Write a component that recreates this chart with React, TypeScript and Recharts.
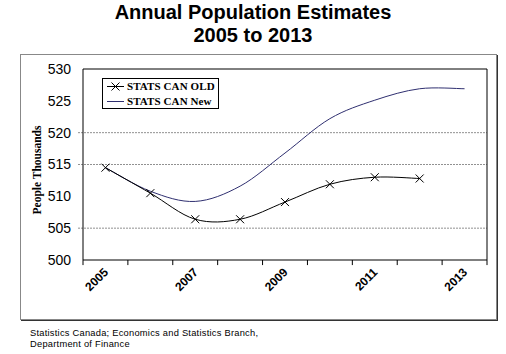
import React from "react";
import { LineChart, Line, XAxis, YAxis, ReferenceLine, ReferenceArea } from "recharts";

const years = [2005, 2006, 2007, 2008, 2009, 2010, 2011, 2012, 2013];
const statsCanOld = [514.5, 510.5, 506.4, 506.4, 509.1, 511.9, 513.0, 512.8, null];
const statsCanNew = [514.5, 510.8, 509.2, 511.6, 516.8, 522.2, 525.1, 526.9, 526.9];
const yearLabels = [2005, 2007, 2009, 2011, 2013];
const bandEdges = [2004.5, 2005.5, 2006.5, 2007.5, 2008.5, 2009.5, 2010.5, 2011.5, 2012.5, 2013.5];
const yTicks = [500, 505, 510, 515, 520, 525, 530];
const gridValues = [505, 515, 520];

const series = [
  { key: "old", name: "STATS CAN OLD", color: "#000000" },
  { key: "new", name: "STATS CAN New", color: "#2f2f70" },
];

const data = years.map((year, i) => ({ year, old: statsCanOld[i], new: statsCanNew[i] }));

const SANS = "'Liberation Sans', Arial, sans-serif";
const SERIF = "'Liberation Serif', 'Times New Roman', serif";

// Excel style smoothed line (catmull-rom through the points)
function excelSmooth(context: any) {
  let pts: number[][] = [];
  return {
    areaStart() {},
    areaEnd() {},
    lineStart() {
      pts = [];
    },
    point(x: number, y: number) {
      pts.push([+x, +y]);
    },
    lineEnd() {
      if (!pts.length) return;
      context.moveTo(pts[0][0], pts[0][1]);
      for (let i = 0; i < pts.length - 1; i++) {
        const p0 = pts[i - 1] || pts[i];
        const p1 = pts[i];
        const p2 = pts[i + 1];
        const p3 = pts[i + 2] || p2;
        context.bezierCurveTo(
          p1[0] + (p2[0] - p0[0]) / 6,
          p1[1] + (p2[1] - p0[1]) / 6,
          p2[0] - (p3[0] - p1[0]) / 6,
          p2[1] - (p3[1] - p1[1]) / 6,
          p2[0],
          p2[1]
        );
      }
    },
  };
}

function CrossDot(props: any) {
  const { cx, cy, value } = props;
  if (cx == null || cy == null || value == null) return <g />;
  const s = 4;
  return (
    <path
      d={`M${cx - s},${cy - s}L${cx + s},${cy + s}M${cx - s},${cy + s}L${cx + s},${cy - s}`}
      stroke="#000"
      strokeWidth={1}
      fill="none"
    />
  );
}

function YearTick({ x, y, payload }: any) {
  return (
    <g transform={`translate(${x},${y})`}>
      <text
        x={-1}
        y={6}
        textAnchor="end"
        transform="rotate(-45)"
        fontFamily={SANS}
        fontWeight="bold"
        fontSize={12}
        fill="#000"
      >
        {payload.value}
      </text>
    </g>
  );
}

export default function App() {
  return (
    <div style={{ position: "absolute", left: 0, top: 0, width: 506, height: 354, background: "#fff" }}>
      {/* title */}
      <div
        style={{
          position: "absolute",
          left: 0,
          top: 1,
          width: 506,
          textAlign: "center",
          fontFamily: SANS,
          fontWeight: "bold",
          fontSize: 20,
          lineHeight: "23px",
          color: "#000",
        }}
      >
        Annual Population Estimates
        <br />
        2005 to 2013
      </div>

      {/* outer chart frame */}
      <div
        style={{
          position: "absolute",
          left: 20,
          top: 54,
          width: 477,
          height: 266,
          boxSizing: "border-box",
          border: "1px solid #888",
          boxShadow: "1px 1px 0 #333",
        }}
      />

      <div style={{ position: "absolute", left: 0, top: 0 }}>
        <LineChart width={506} height={354} data={data} margin={{ top: 69, right: 19, bottom: 34, left: 0 }}>
          <XAxis
            xAxisId="years"
            type="number"
            dataKey="year"
            domain={[2004.5, 2013.5]}
            ticks={yearLabels}
            height={60}
            tickLine={false}
            axisLine={false}
            tick={<YearTick />}
            interval={0}
          />
          <YAxis
            type="number"
            domain={[500, 530]}
            ticks={yTicks}
            width={83}
            tickLine={false}
            axisLine={false}
            tickSize={5}
            tickMargin={7}
            tick={{ fill: "#000", fontSize: 14, fontFamily: SANS }}
            interval={0}
          />
          {gridValues.map((v) => (
            <ReferenceLine
              key={v}
              xAxisId="years"
              segment={[
                { x: 2004.4, y: v },
                { x: 2013.5, y: v },
              ]}
              ifOverflow="visible"
              stroke="#222"
              strokeDasharray="1 2"
            />
          ))}
          {/* tick marks between categories */}
          {bandEdges.map((e) => (
            <ReferenceLine
              key={e}
              xAxisId="years"
              segment={[
                { x: e, y: 500 },
                { x: e, y: 499.2 },
              ]}
              ifOverflow="visible"
              stroke="#000"
            />
          ))}
          <ReferenceArea
            xAxisId="years"
            x1={2004.5}
            x2={2013.5}
            y1={500}
            y2={530}
            fill="none"
            fillOpacity={0}
            stroke="#000"
            strokeWidth={1}
            ifOverflow="visible"
          />
          <Line
            xAxisId="years"
            dataKey="new"
            name={series[1].name}
            type={excelSmooth as any}
            stroke={series[1].color}
            strokeWidth={1}
            dot={false}
            isAnimationActive={false}
          />
          <Line
            xAxisId="years"
            dataKey="old"
            name={series[0].name}
            type={excelSmooth as any}
            stroke={series[0].color}
            strokeWidth={1}
            dot={<CrossDot />}
            isAnimationActive={false}
          />
        </LineChart>
      </div>

      {/* legend */}
      <div
        style={{
          position: "absolute",
          left: 102,
          top: 78,
          width: 117,
          height: 31,
          boxSizing: "border-box",
          border: "1px solid #000",
          background: "#fff",
          fontFamily: SERIF,
          fontWeight: "bold",
          fontSize: 11,
          letterSpacing: "0.1px",
          color: "#000",
        }}
      >
        {series.map((s) => (
          <div key={s.key} style={{ display: "flex", alignItems: "center", height: 15 }}>
            <svg width={24} height={15} style={{ display: "block", flex: "none" }}>
              <line x1={4} y1={7.5} x2={21} y2={7.5} stroke={s.color} strokeWidth={1} />
              {s.key === "old" && <path d="M8.5,3.5L16.5,11.5M8.5,11.5L16.5,3.5" stroke="#000" strokeWidth={1} />}
            </svg>
            <span style={{ whiteSpace: "nowrap", lineHeight: "15px" }}>{s.name}</span>
          </div>
        ))}
      </div>

      {/* y axis title */}
      <div
        style={{
          position: "absolute",
          left: 37 - 60,
          top: 170 - 8,
          width: 120,
          height: 16,
          lineHeight: "16px",
          textAlign: "center",
          transform: "rotate(-90deg)",
          fontFamily: SERIF,
          fontWeight: "bold",
          fontSize: 11.5,
          color: "#000",
          whiteSpace: "nowrap",
        }}
      >
        People Thousands
      </div>

      {/* source note */}
      <div
        style={{
          position: "absolute",
          left: 30,
          top: 328,
          fontFamily: SANS,
          fontSize: 9.3,
          letterSpacing: "0.25px",
          lineHeight: "11px",
          color: "#000",
        }}
      >
        Statistics Canada; Economics and Statistics Branch,
        <br />
        Department of Finance
      </div>
    </div>
  );
}
